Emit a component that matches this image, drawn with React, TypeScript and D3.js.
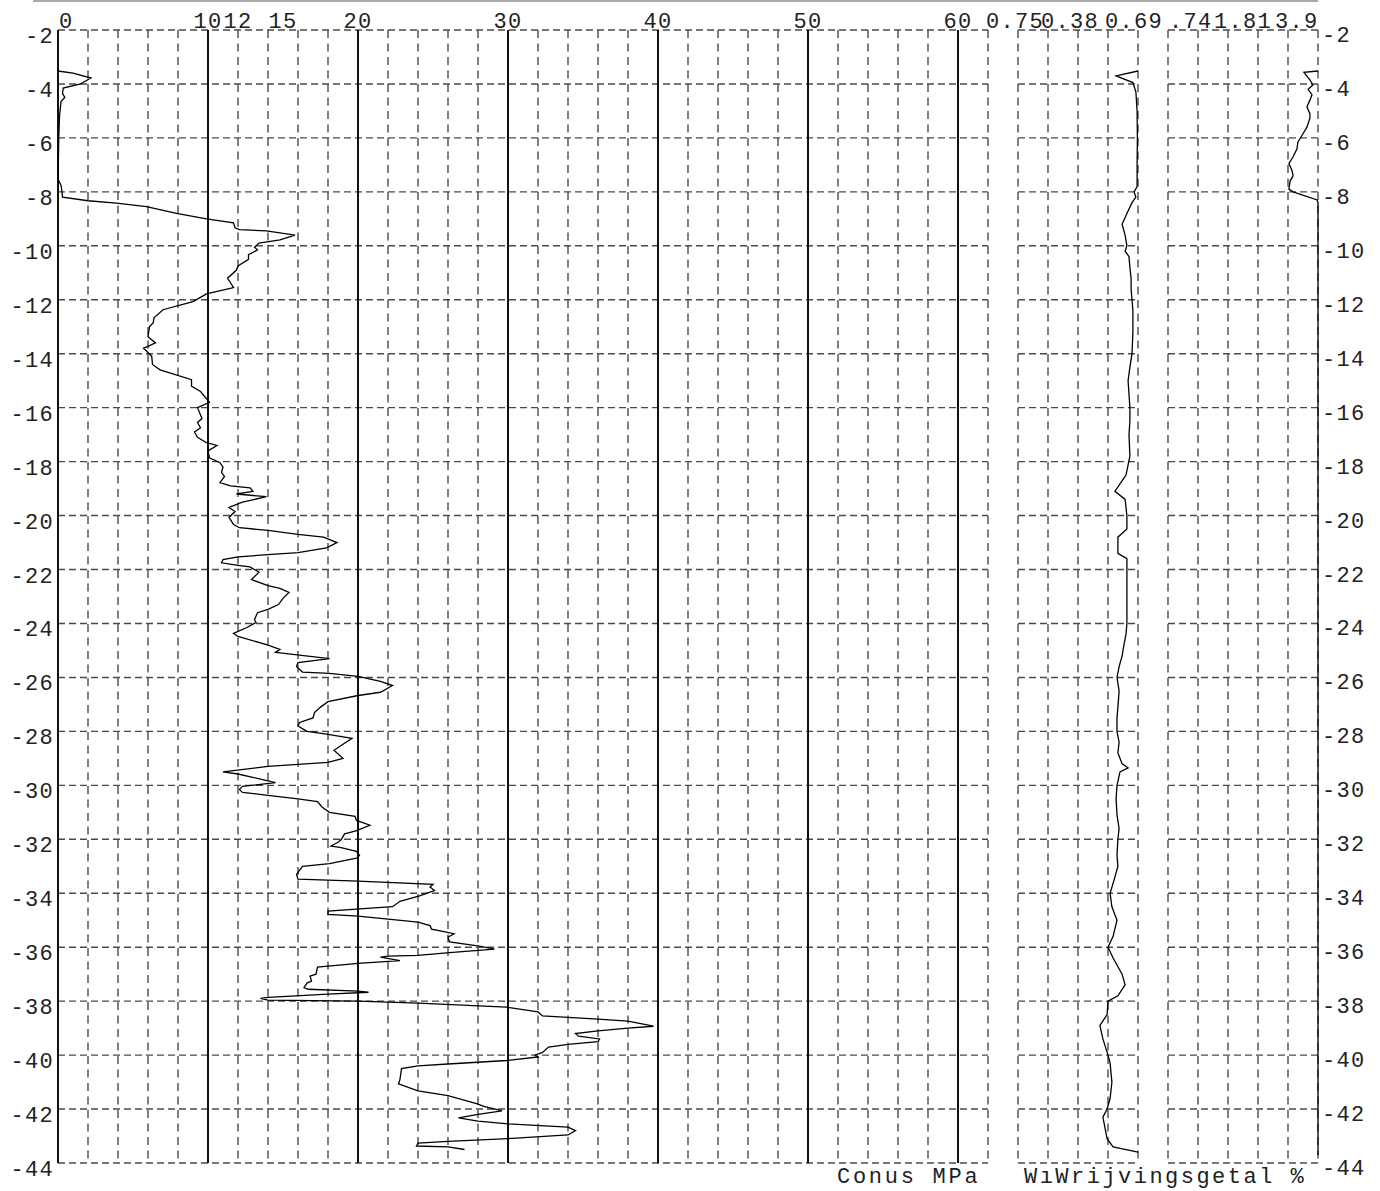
import React from "react";
import * as d3 from "d3";

// ---------- data ----------
const depthTicks = [-2, -4, -6, -8, -10, -12, -14, -16, -18, -20, -22, -24, -26, -28, -30, -32, -34, -36, -38, -40, -42, -44];
const conusTicks = [0, 10, 12, 15, 20, 30, 40, 50, 60];
const conusMajor = [0, 10, 20, 30, 40, 50, 60];
const rightTopLabels = ["0.75", "0.38", "0.69", ".74", "1.81", "3.9"];
const conusTitle = "Conus MPa";
const frictionTitle = "WıWrijvingsgetal %";

// [depth m, cone resistance MPa]
const conusData: [number, number][] = [
  [-3.52, 0], [-3.6, 1.0], [-3.78, 2.2], [-3.9, 1.8], [-4.0, 1.5], [-4.15, 0.35], [-4.35, 0.3], [-4.5, 0.45],
  [-4.65, 0.2], [-5.2, 0.1], [-6.0, 0.05], [-7.0, 0.02], [-7.55, 0.02], [-7.75, 0.2], [-8.0, 0.27], [-8.2, 0.3],
  [-8.33, 2.0], [-8.42, 3.9], [-8.55, 5.9], [-8.8, 7.9], [-9.0, 9.9], [-9.15, 11.7], [-9.33, 11.8], [-9.4, 12.1],
  [-9.45, 13.9], [-9.6, 15.8], [-9.78, 14.8], [-9.9, 13.4], [-10.05, 13.1], [-10.15, 13.3], [-10.33, 12.7],
  [-10.5, 12.7], [-10.75, 12.0], [-10.9, 11.9], [-11.2, 11.3], [-11.37, 11.5], [-11.55, 11.7], [-11.78, 9.9],
  [-12.07, 9.0], [-12.37, 7.0], [-12.67, 6.4], [-12.85, 6.35], [-13.0, 6.1], [-13.37, 6.0], [-13.6, 6.5],
  [-13.73, 6.0], [-13.8, 5.7], [-13.9, 5.9], [-14.1, 6.25], [-14.4, 6.3], [-14.6, 6.8], [-14.96, 8.9],
  [-15.2, 8.9], [-15.4, 9.5], [-15.8, 10.1], [-16.0, 9.3], [-16.4, 9.6], [-16.55, 9.3], [-16.75, 9.5],
  [-16.9, 9.1], [-17.1, 9.3], [-17.3, 9.9], [-17.4, 10.6], [-17.6, 10.0], [-17.86, 10.1], [-18.04, 10.8],
  [-18.2, 11.0], [-18.4, 10.9], [-18.55, 11.1], [-18.78, 10.8], [-18.9, 11.5], [-18.97, 12.8], [-19.1, 13.0],
  [-19.2, 11.9], [-19.3, 13.9], [-19.5, 12.3], [-19.7, 11.4], [-19.85, 11.8], [-20.07, 11.4], [-20.33, 11.7],
  [-20.45, 12.1], [-20.55, 14.0], [-20.7, 16.0], [-20.8, 17.7], [-21.0, 18.6], [-21.2, 17.9], [-21.37, 16.0],
  [-21.45, 14.0], [-21.53, 12.0], [-21.63, 11.0], [-21.75, 10.9], [-21.85, 12.0], [-21.9, 12.8], [-22.1, 13.4],
  [-22.37, 12.9], [-22.6, 14.0], [-22.7, 14.8], [-22.85, 15.4], [-23.07, 15.0], [-23.3, 14.7], [-23.48, 14.0],
  [-23.6, 13.3], [-23.85, 13.1], [-23.96, 13.2], [-24.15, 12.6], [-24.37, 11.7], [-24.48, 12.0], [-24.8, 14.0],
  [-24.96, 14.8], [-25.07, 14.5], [-25.3, 18.1], [-25.45, 16.0], [-25.6, 15.9], [-25.8, 16.3], [-25.85, 18.1],
  [-25.96, 20.0], [-26.15, 21.5], [-26.3, 22.3], [-26.55, 21.5], [-26.67, 20.0], [-26.9, 18.0], [-27.1, 17.5],
  [-27.3, 17.1], [-27.5, 17.0], [-27.67, 16.1], [-27.8, 16.0], [-28.0, 16.6], [-28.1, 17.9], [-28.26, 19.6],
  [-28.55, 18.8], [-28.7, 18.4], [-29.0, 19.0], [-29.15, 18.0], [-29.3, 14.0], [-29.5, 11.0], [-29.58, 12.0],
  [-29.9, 14.5], [-30.04, 12.3], [-30.15, 12.1], [-30.26, 12.3], [-30.37, 14.0], [-30.5, 16.0], [-30.6, 17.3],
  [-30.8, 17.6], [-31.0, 18.1], [-31.15, 19.8], [-31.3, 19.9], [-31.48, 20.8], [-31.7, 19.8], [-31.8, 19.1],
  [-32.0, 18.9], [-32.1, 18.7], [-32.25, 18.2], [-32.3, 18.8], [-32.45, 19.9], [-32.6, 20.1], [-32.7, 19.9],
  [-32.9, 18.1], [-33.0, 16.3], [-33.3, 15.9], [-33.48, 16.0], [-33.55, 20.0], [-33.67, 25.0], [-33.77, 24.8],
  [-33.9, 25.1], [-34.1, 24.1], [-34.3, 22.8], [-34.5, 22.3], [-34.66, 18.0], [-34.78, 18.0], [-34.85, 20.0],
  [-35.07, 24.0], [-35.2, 24.8], [-35.33, 24.9], [-35.44, 25.9], [-35.5, 26.4], [-35.63, 26.0], [-35.8, 26.1],
  [-35.96, 28.1], [-36.07, 29.1], [-36.2, 26.1], [-36.3, 24.0], [-36.33, 22.0], [-36.37, 21.5], [-36.5, 22.8],
  [-36.6, 20.0], [-36.74, 17.3], [-37.0, 17.2], [-37.07, 16.8], [-37.26, 16.9], [-37.33, 16.6], [-37.5, 16.4],
  [-37.56, 16.7], [-37.63, 20.0], [-37.67, 20.7], [-37.74, 18.0], [-37.86, 14.0], [-37.9, 13.5], [-37.96, 14.0],
  [-38.0, 20.0], [-38.07, 24.0], [-38.22, 29.9], [-38.4, 32.0], [-38.55, 32.3], [-38.6, 34.0], [-38.67, 36.0],
  [-38.74, 38.0], [-38.93, 39.7], [-39.0, 38.0], [-39.1, 36.0], [-39.2, 34.5], [-39.3, 34.7], [-39.4, 36.1],
  [-39.5, 36.0], [-39.6, 34.0], [-39.7, 32.7], [-39.9, 32.3], [-40.0, 31.8], [-40.07, 32.0], [-40.2, 29.9],
  [-40.33, 26.0], [-40.4, 24.0], [-40.5, 22.9], [-40.9, 22.8], [-41.07, 22.7], [-41.33, 24.0], [-41.5, 26.0],
  [-41.8, 27.9], [-41.9, 28.4], [-42.07, 29.6], [-42.2, 28.0], [-42.33, 26.7], [-42.45, 28.0], [-42.55, 30.0],
  [-42.67, 34.0], [-42.8, 34.5], [-42.96, 34.0], [-43.1, 30.0], [-43.2, 26.0], [-43.26, 24.0], [-43.37, 23.9],
  [-43.4, 26.0], [-43.5, 27.1],
];

// [depth m, friction ratio %]
const frictionData: [number, number][] = [
  [-3.52, 0], [-3.7, 0.73], [-3.95, 0.17], [-4.3, 0.07], [-5.0, 0.03], [-6.0, 0.02], [-7.0, 0.03], [-7.8, 0.03],
  [-8.0, 0.13], [-8.2, 0.07], [-8.4, 0.2], [-8.8, 0.37], [-9.2, 0.53], [-9.6, 0.43], [-10.0, 0.37], [-10.2, 0.43],
  [-10.4, 0.3], [-10.8, 0.27], [-11.2, 0.23], [-11.6, 0.23], [-12.0, 0.2], [-12.4, 0.17], [-13.2, 0.17],
  [-14.0, 0.2], [-14.5, 0.27], [-15.0, 0.33], [-15.5, 0.3], [-16.0, 0.27], [-16.5, 0.27], [-17.0, 0.3],
  [-17.8, 0.27], [-18.5, 0.4], [-19.1, 0.77], [-19.4, 0.43], [-20.0, 0.37], [-20.5, 0.37], [-20.8, 0.67],
  [-21.4, 0.67], [-21.6, 0.37], [-22.0, 0.37], [-23.0, 0.37], [-24.0, 0.37], [-24.4, 0.4], [-24.8, 0.47],
  [-25.2, 0.53], [-25.6, 0.63], [-26.0, 0.7], [-26.5, 0.63], [-27.1, 0.67], [-27.5, 0.7], [-28.0, 0.7],
  [-28.4, 0.63], [-28.8, 0.67], [-29.2, 0.53], [-29.35, 0.33], [-29.5, 0.6], [-30.0, 0.7], [-30.5, 0.73],
  [-31.1, 0.7], [-31.6, 0.63], [-32.0, 0.67], [-32.6, 0.7], [-33.0, 0.67], [-33.4, 0.77], [-34.0, 0.93],
  [-34.5, 0.87], [-35.0, 0.7], [-35.6, 0.83], [-36.0, 1.0], [-36.4, 0.83], [-37.0, 0.53], [-37.4, 0.43],
  [-37.8, 0.67], [-38.0, 1.0], [-38.5, 1.03], [-38.9, 1.27], [-39.4, 1.17], [-40.0, 1.0], [-40.3, 0.93],
  [-41.0, 0.87], [-41.6, 0.93], [-42.0, 1.03], [-42.3, 1.17], [-42.7, 1.1], [-43.1, 1.03], [-43.4, 0.83],
  [-43.6, 0],
];

// [depth m, local friction value]
const sleeveData: [number, number][] = [
  [-3.52, 0], [-3.57, 0.47], [-3.85, 0.27], [-4.04, 0.17], [-4.2, 0.33], [-4.4, 0.2], [-4.6, 0.27], [-4.85, 0.37],
  [-5.1, 0.27], [-5.27, 0.27], [-5.6, 0.37], [-5.9, 0.53], [-6.15, 0.67], [-6.4, 0.7], [-6.7, 0.83], [-6.95, 0.97],
  [-7.2, 0.87], [-7.4, 0.83], [-7.6, 0.93], [-7.9, 0.97], [-8.0, 0.83], [-8.3, 0.03], [-8.4, 0], [-43.7, 0],
];

// ---------- layout ----------
const W = 1380;
const H = 1191;
const FONT = "'Liberation Mono', 'Courier New', monospace";
const FS = 22;
const LS = 1.3;
const GRID = "#4a4a4a";

export default function App() {
  const y = d3.scaleLinear().domain([-2, -44]).range([30, 1163]);
  const xC = d3.scaleLinear().domain([0, 60]).range([58, 958]);
  const xF = d3.scaleLinear().domain([0, 4]).range([1138, 1018]);
  const xS = d3.scaleLinear().domain([0, 5]).range([1318, 1168]);
  const [y0, y1] = y.range();

  const conusMinor = d3.range(2, 63, 2).filter((v) => !conusMajor.includes(v));
  const fricGrid = d3.range(0, 5, 1);
  const sleeveGrid = d3.range(0, 6, 1);
  const vDashed = [
    ...conusMinor.map((v) => xC(v)),
    ...fricGrid.map((v) => xF(v)),
    ...sleeveGrid.map((v) => xS(v)),
  ];
  const hSegments: [number, number][] = [
    [xC(0), xC(62)],
    [xF(4), xF(0)],
    [xS(5), xS(0)],
  ];

  const lineC = d3.line<[number, number]>().x((d) => xC(d[1])).y((d) => y(d[0]));
  const lineF = d3.line<[number, number]>().x((d) => xF(d[1])).y((d) => y(d[0]));
  const lineS = d3.line<[number, number]>().x((d) => xS(d[1])).y((d) => y(d[0]));

  const rightLabelX = [986, 1041, 1105, 1169, 1214, 1275];

  const textStyle = { fontFamily: FONT, fontSize: FS, letterSpacing: LS, fill: "#222" } as const;

  return (
    <svg width={W} height={H} style={{ position: "absolute", left: 0, top: 0, background: "#fff" }}>
      <line x1={33} x2={1318} y1={1} y2={1} stroke="#aaa" strokeWidth={2} />

      {/* horizontal dashed grid */}
      {depthTicks.map((d) =>
        hSegments.map(([a, b], i) => (
          <line key={`h${d}-${i}`} x1={a} x2={b} y1={y(d)} y2={y(d)} stroke={GRID} strokeWidth={1.4} strokeDasharray="7,4" />
        ))
      )}
      {/* vertical dashed grid */}
      {vDashed.map((x, i) => (
        <line key={`v${i}`} x1={x} x2={x} y1={y0} y2={y1} stroke={GRID} strokeWidth={1.4} strokeDasharray="8,5.5" />
      ))}
      {/* solid major lines */}
      {conusMajor.map((v) => (
        <line key={`m${v}`} x1={xC(v)} x2={xC(v)} y1={y0} y2={y1} stroke="#111" strokeWidth={2} />
      ))}

      {/* curves */}
      <path d={lineC(conusData) || ""} fill="none" stroke="#000" strokeWidth={1.3} />
      <path d={lineF(frictionData) || ""} fill="none" stroke="#000" strokeWidth={1.3} />
      <path d={lineS(sleeveData) || ""} fill="none" stroke="#000" strokeWidth={1.3} />

      {/* depth labels */}
      {depthTicks.map((d) => (
        <text key={`l${d}`} x={54} y={y(d) + 13} textAnchor="end" style={textStyle}>
          {d}
        </text>
      ))}
      {depthTicks.map((d) => (
        <text key={`r${d}`} x={1322} y={y(d) + 12} textAnchor="start" style={textStyle}>
          {d}
        </text>
      ))}

      {/* top conus labels */}
      {conusTicks.map((v) => (
        <text key={`t${v}`} x={v === 0 ? xC(v) + 1 : xC(v)} y={28} textAnchor={v === 0 ? "start" : "middle"} style={textStyle}>
          {v}
        </text>
      ))}
      {rightTopLabels.map((s, i) => (
        <text key={`rt${i}`} x={rightLabelX[i]} y={28} textAnchor="start" style={textStyle}>
          {s}
        </text>
      ))}

      {/* titles */}
      <text x={837} y={1183} style={textStyle} textLength={142} lengthAdjust="spacing">
        {conusTitle}
      </text>
      <text x={1024} y={1183} style={textStyle} textLength={281} lengthAdjust="spacing">
        {frictionTitle}
      </text>
    </svg>
  );
}
